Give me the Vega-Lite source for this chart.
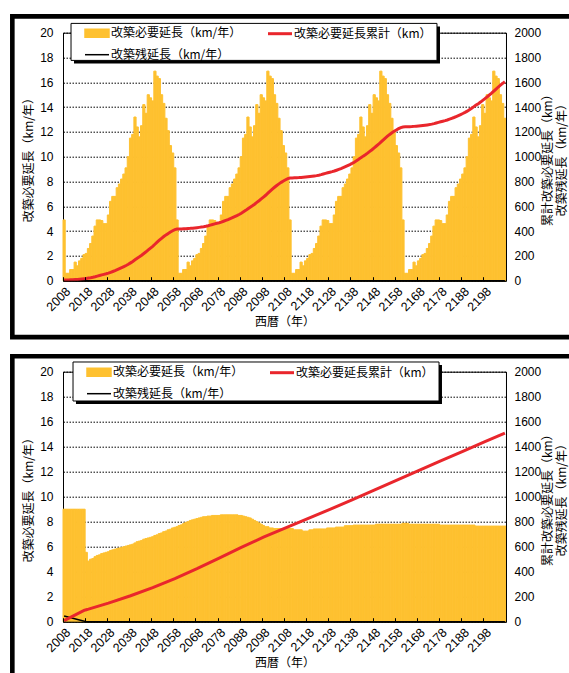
{
  "$schema": "https://vega.github.io/schema/vega-lite/v6.json",
  "padding": {"left": 9, "top": 12.7, "right": 0, "bottom": 0},
  "background": "white",
  "config": {
    "view": {"stroke": null},
    "axis": {"labelColor": "black", "titleColor": "black"},
    "line": {"invalid": "filter"}
  },
  "datasets": {
    "top": [
      {"year":2008,"a":4.9,"ac":4.9,"ar":0},{"year":2009,"a":0.6,"ac":5.5},{"year":2010,"a":0.6,"ac":6.1},{"year":2011,"a":0.9,"ac":7.0},{"year":2012,"a":0.9,"ac":7.9},{"year":2013,"a":1.5,"ac":9.4},{"year":2014,"a":1.2,"ac":10.6},{"year":2015,"a":1.6,"ac":12.2},{"year":2016,"a":1.8,"ac":14.0},{"year":2017,"a":2.1,"ac":16.1},
      {"year":2018,"a":2.2,"ac":18.3},{"year":2019,"a":2.6,"ac":20.9},{"year":2020,"a":3.0,"ac":23.9},{"year":2021,"a":3.6,"ac":27.5},{"year":2022,"a":4.4,"ac":31.9},{"year":2023,"a":4.9,"ac":36.8},{"year":2024,"a":4.9,"ac":41.7},{"year":2025,"a":4.85,"ac":46.6},{"year":2026,"a":4.6,"ac":51.2},{"year":2027,"a":4.6,"ac":55.8},
      {"year":2028,"a":5.3,"ac":61.1},{"year":2029,"a":6.4,"ac":67.5},{"year":2030,"a":6.8,"ac":74.3},{"year":2031,"a":6.8,"ac":81.1},{"year":2032,"a":7.5,"ac":88.6},{"year":2033,"a":7.8,"ac":96.4},{"year":2034,"a":8.2,"ac":104.6},{"year":2035,"a":8.6,"ac":113.2},{"year":2036,"a":9.1,"ac":122.3},{"year":2037,"a":10.0,"ac":132.3},
      {"year":2038,"a":11.5,"ac":143.8},{"year":2039,"a":11.8,"ac":155.6},{"year":2040,"a":13.2,"ac":168.8},{"year":2041,"a":12.4,"ac":181.2},{"year":2042,"a":11.6,"ac":192.8},{"year":2043,"a":12.5,"ac":205.3},{"year":2044,"a":14.2,"ac":219.5},{"year":2045,"a":13.5,"ac":233.0},{"year":2046,"a":15.0,"ac":248.0},{"year":2047,"a":14.75,"ac":262.7},
      {"year":2048,"a":14.5,"ac":277.2},{"year":2049,"a":16.9,"ac":294.1},{"year":2050,"a":16.5,"ac":310.6},{"year":2051,"a":16.3,"ac":326.9},{"year":2052,"a":15.0,"ac":341.9},{"year":2053,"a":14.3,"ac":356.2},{"year":2054,"a":13.1,"ac":369.3},{"year":2055,"a":12.1,"ac":381.4},{"year":2056,"a":10.9,"ac":392.3},{"year":2057,"a":10.3,"ac":402.6},
      {"year":2058,"a":9.1,"ac":411.7},{"year":2059,"a":4.9,"ac":416.6},{"year":2060,"a":0.6,"ac":417.2},{"year":2061,"a":0.6,"ac":417.8},{"year":2062,"a":0.9,"ac":418.7},{"year":2063,"a":0.9,"ac":419.6},{"year":2064,"a":1.5,"ac":421.1},{"year":2065,"a":1.2,"ac":422.3},{"year":2066,"a":1.6,"ac":423.9},{"year":2067,"a":1.8,"ac":425.7},
      {"year":2068,"a":2.1,"ac":427.8},{"year":2069,"a":2.2,"ac":430.0},{"year":2070,"a":2.6,"ac":432.6},{"year":2071,"a":3.0,"ac":435.6},{"year":2072,"a":3.6,"ac":439.2},{"year":2073,"a":4.4,"ac":443.6},{"year":2074,"a":4.9,"ac":448.5},{"year":2075,"a":4.9,"ac":453.4},{"year":2076,"a":4.85,"ac":458.3},{"year":2077,"a":4.6,"ac":462.9},
      {"year":2078,"a":4.6,"ac":467.5},{"year":2079,"a":5.3,"ac":472.8},{"year":2080,"a":6.4,"ac":479.2},{"year":2081,"a":6.8,"ac":486.0},{"year":2082,"a":6.8,"ac":492.8},{"year":2083,"a":7.5,"ac":500.3},{"year":2084,"a":7.8,"ac":508.1},{"year":2085,"a":8.2,"ac":516.3},{"year":2086,"a":8.6,"ac":524.9},{"year":2087,"a":9.1,"ac":534.0},
      {"year":2088,"a":10.0,"ac":544.0},{"year":2089,"a":11.5,"ac":555.5},{"year":2090,"a":11.8,"ac":567.3},{"year":2091,"a":13.2,"ac":580.5},{"year":2092,"a":12.4,"ac":592.9},{"year":2093,"a":11.6,"ac":604.5},{"year":2094,"a":12.5,"ac":617.0},{"year":2095,"a":14.2,"ac":631.2},{"year":2096,"a":13.5,"ac":644.7},{"year":2097,"a":15.0,"ac":659.7},
      {"year":2098,"a":14.75,"ac":674.4},{"year":2099,"a":14.5,"ac":688.9},{"year":2100,"a":16.9,"ac":705.8},{"year":2101,"a":16.5,"ac":722.3},{"year":2102,"a":16.3,"ac":738.6},{"year":2103,"a":15.0,"ac":753.6},{"year":2104,"a":14.3,"ac":767.9},{"year":2105,"a":13.1,"ac":781.0},{"year":2106,"a":12.1,"ac":793.1},{"year":2107,"a":10.9,"ac":804.0},
      {"year":2108,"a":10.3,"ac":814.3},{"year":2109,"a":9.1,"ac":823.4},{"year":2110,"a":4.9,"ac":828.3},{"year":2111,"a":0.6,"ac":828.9},{"year":2112,"a":0.6,"ac":829.5},{"year":2113,"a":0.9,"ac":830.4},{"year":2114,"a":0.9,"ac":831.3},{"year":2115,"a":1.5,"ac":832.8},{"year":2116,"a":1.2,"ac":834.0},{"year":2117,"a":1.6,"ac":835.6},
      {"year":2118,"a":1.8,"ac":837.4},{"year":2119,"a":2.1,"ac":839.5},{"year":2120,"a":2.2,"ac":841.7},{"year":2121,"a":2.6,"ac":844.3},{"year":2122,"a":3.0,"ac":847.3},{"year":2123,"a":3.6,"ac":850.9},{"year":2124,"a":4.4,"ac":855.3},{"year":2125,"a":4.9,"ac":860.2},{"year":2126,"a":4.9,"ac":865.1},{"year":2127,"a":4.85,"ac":870.0},
      {"year":2128,"a":4.6,"ac":874.6},{"year":2129,"a":4.6,"ac":879.2},{"year":2130,"a":5.3,"ac":884.5},{"year":2131,"a":6.4,"ac":890.9},{"year":2132,"a":6.8,"ac":897.7},{"year":2133,"a":6.8,"ac":904.5},{"year":2134,"a":7.5,"ac":912.0},{"year":2135,"a":7.8,"ac":919.8},{"year":2136,"a":8.2,"ac":928.0},{"year":2137,"a":8.6,"ac":936.6},
      {"year":2138,"a":9.1,"ac":945.7},{"year":2139,"a":10.0,"ac":955.7},{"year":2140,"a":11.5,"ac":967.2},{"year":2141,"a":11.8,"ac":979.0},{"year":2142,"a":13.2,"ac":992.2},{"year":2143,"a":12.4,"ac":1004.6},{"year":2144,"a":11.6,"ac":1016.2},{"year":2145,"a":12.5,"ac":1028.7},{"year":2146,"a":14.2,"ac":1042.9},{"year":2147,"a":13.5,"ac":1056.4},
      {"year":2148,"a":15.0,"ac":1071.4},{"year":2149,"a":14.75,"ac":1086.1},{"year":2150,"a":14.5,"ac":1100.6},{"year":2151,"a":16.9,"ac":1117.5},{"year":2152,"a":16.5,"ac":1134.0},{"year":2153,"a":16.3,"ac":1150.3},{"year":2154,"a":15.0,"ac":1165.3},{"year":2155,"a":14.3,"ac":1179.6},{"year":2156,"a":13.1,"ac":1192.7},{"year":2157,"a":12.1,"ac":1204.8},
      {"year":2158,"a":10.9,"ac":1215.7},{"year":2159,"a":10.3,"ac":1226.0},{"year":2160,"a":9.1,"ac":1235.1},{"year":2161,"a":4.9,"ac":1240.0},{"year":2162,"a":0.6,"ac":1240.6},{"year":2163,"a":0.6,"ac":1241.2},{"year":2164,"a":0.9,"ac":1242.1},{"year":2165,"a":0.9,"ac":1243.0},{"year":2166,"a":1.5,"ac":1244.5},{"year":2167,"a":1.2,"ac":1245.7},
      {"year":2168,"a":1.6,"ac":1247.3},{"year":2169,"a":1.8,"ac":1249.1},{"year":2170,"a":2.1,"ac":1251.2},{"year":2171,"a":2.2,"ac":1253.4},{"year":2172,"a":2.6,"ac":1256.0},{"year":2173,"a":3.0,"ac":1259.0},{"year":2174,"a":3.6,"ac":1262.6},{"year":2175,"a":4.4,"ac":1267.0},{"year":2176,"a":4.9,"ac":1271.9},{"year":2177,"a":4.9,"ac":1276.8},
      {"year":2178,"a":4.85,"ac":1281.7},{"year":2179,"a":4.6,"ac":1286.3},{"year":2180,"a":4.6,"ac":1290.9},{"year":2181,"a":5.3,"ac":1296.2},{"year":2182,"a":6.4,"ac":1302.6},{"year":2183,"a":6.8,"ac":1309.4},{"year":2184,"a":6.8,"ac":1316.2},{"year":2185,"a":7.5,"ac":1323.7},{"year":2186,"a":7.8,"ac":1331.5},{"year":2187,"a":8.2,"ac":1339.7},
      {"year":2188,"a":8.6,"ac":1348.3},{"year":2189,"a":9.1,"ac":1357.4},{"year":2190,"a":10.0,"ac":1367.4},{"year":2191,"a":11.5,"ac":1378.9},{"year":2192,"a":11.8,"ac":1390.7},{"year":2193,"a":13.2,"ac":1403.9},{"year":2194,"a":12.4,"ac":1416.3},{"year":2195,"a":11.6,"ac":1427.9},{"year":2196,"a":12.5,"ac":1440.4},{"year":2197,"a":14.2,"ac":1454.6},
      {"year":2198,"a":13.5,"ac":1468.1},{"year":2199,"a":15.0,"ac":1483.1},{"year":2200,"a":14.75,"ac":1497.8},{"year":2201,"a":14.5,"ac":1512.3},{"year":2202,"a":16.9,"ac":1529.2},{"year":2203,"a":16.5,"ac":1545.7},{"year":2204,"a":16.3,"ac":1562.0},{"year":2205,"a":15.0,"ac":1577.0},{"year":2206,"a":14.3,"ac":1591.3},{"year":2207,"a":13.1,"ac":1604.4,"ar":0}
    ],
    "bot": [
      {"year":2008,"b":9.0,"bc":9.0,"br":0.45},{"year":2009,"b":9.0},{"year":2010,"b":9.0},{"year":2011,"b":9.0},{"year":2012,"b":9.0},{"year":2013,"b":9.0},{"year":2014,"b":9.0},{"year":2015,"b":9.0},{"year":2016,"b":9.0},{"year":2017,"b":9.0,"bc":90.0},
      {"year":2018,"b":5.55,"bc":95.6,"br":0},{"year":2019,"b":4.85,"bc":100.4},{"year":2020,"b":5.0},{"year":2021,"b":5.05},{"year":2022,"b":5.2},{"year":2023,"b":5.3},{"year":2024,"b":5.35},{"year":2025,"b":5.45},{"year":2026,"b":5.5},{"year":2027,"b":5.55},
      {"year":2028,"b":5.6,"bc":148.4},{"year":2029,"b":5.7},{"year":2030,"b":5.75},{"year":2031,"b":5.8},{"year":2032,"b":5.85},{"year":2033,"b":5.9},{"year":2034,"b":5.95},{"year":2035,"b":6.0},{"year":2036,"b":6.05},{"year":2037,"b":6.1},
      {"year":2038,"b":6.15,"bc":207.6},{"year":2039,"b":6.2},{"year":2040,"b":6.3},{"year":2041,"b":6.4},{"year":2042,"b":6.45},{"year":2043,"b":6.5},{"year":2044,"b":6.6},{"year":2045,"b":6.65},{"year":2046,"b":6.7},{"year":2047,"b":6.75},
      {"year":2048,"b":6.8,"bc":273.0},{"year":2049,"b":6.9},{"year":2050,"b":6.95},{"year":2051,"b":7.05},{"year":2052,"b":7.1},{"year":2053,"b":7.2},{"year":2054,"b":7.25},{"year":2055,"b":7.35},{"year":2056,"b":7.4},{"year":2057,"b":7.5},
      {"year":2058,"b":7.55,"bc":345.2},{"year":2059,"b":7.6},{"year":2060,"b":7.7},{"year":2061,"b":7.75},{"year":2062,"b":7.85},{"year":2063,"b":7.95},{"year":2064,"b":8.0},{"year":2065,"b":8.1},{"year":2066,"b":8.15},{"year":2067,"b":8.2},
      {"year":2068,"b":8.25,"bc":424.8},{"year":2069,"b":8.3},{"year":2070,"b":8.35},{"year":2071,"b":8.4},{"year":2072,"b":8.4},{"year":2073,"b":8.45},{"year":2074,"b":8.45},{"year":2075,"b":8.5},{"year":2076,"b":8.5},{"year":2077,"b":8.5},
      {"year":2078,"b":8.5,"bc":509.2},{"year":2079,"b":8.55},{"year":2080,"b":8.55},{"year":2081,"b":8.55},{"year":2082,"b":8.55},{"year":2083,"b":8.55},{"year":2084,"b":8.55},{"year":2085,"b":8.55},{"year":2086,"b":8.55},{"year":2087,"b":8.5},
      {"year":2088,"b":8.5,"bc":594.6},{"year":2089,"b":8.45},{"year":2090,"b":8.4},{"year":2091,"b":8.35},{"year":2092,"b":8.3},{"year":2093,"b":8.2},{"year":2094,"b":8.1},{"year":2095,"b":8.0},{"year":2096,"b":7.9},{"year":2097,"b":7.8},
      {"year":2098,"b":7.7,"bc":675.8},{"year":2099,"b":7.6},{"year":2100,"b":7.6},{"year":2101,"b":7.5},{"year":2102,"b":7.5},{"year":2103,"b":7.45},{"year":2104,"b":7.45},{"year":2105,"b":7.45},{"year":2106,"b":7.45},{"year":2107,"b":7.45},
      {"year":2108,"b":7.45,"bc":750.7},{"year":2109,"b":7.45},{"year":2110,"b":7.45},{"year":2111,"b":7.45},{"year":2112,"b":7.35},{"year":2113,"b":7.35},{"year":2114,"b":7.35},{"year":2115,"b":7.35},{"year":2116,"b":7.25},{"year":2117,"b":7.25},
      {"year":2118,"b":7.25,"bc":824.2},{"year":2119,"b":7.35},{"year":2120,"b":7.35},{"year":2121,"b":7.42},{"year":2122,"b":7.42},{"year":2123,"b":7.42},{"year":2124,"b":7.42},{"year":2125,"b":7.42},{"year":2126,"b":7.42},{"year":2127,"b":7.5},
      {"year":2128,"b":7.5,"bc":898.4},{"year":2129,"b":7.5},{"year":2130,"b":7.5},{"year":2131,"b":7.57},{"year":2132,"b":7.57},{"year":2133,"b":7.57},{"year":2134,"b":7.57},{"year":2135,"b":7.68},{"year":2136,"b":7.68},{"year":2137,"b":7.68},
      {"year":2138,"b":7.68,"bc":974.4},{"year":2139,"b":7.73},{"year":2140,"b":7.73},{"year":2141,"b":7.73},{"year":2142,"b":7.73},{"year":2143,"b":7.73},{"year":2144,"b":7.73},{"year":2145,"b":7.73},{"year":2146,"b":7.73},{"year":2147,"b":7.73},
      {"year":2148,"b":7.73,"bc":1051.7},{"year":2149,"b":7.8},{"year":2150,"b":7.8},{"year":2151,"b":7.8},{"year":2152,"b":7.8},{"year":2153,"b":7.8},{"year":2154,"b":7.8},{"year":2155,"b":7.8},{"year":2156,"b":7.8},{"year":2157,"b":7.8},
      {"year":2158,"b":7.8,"bc":1129.7},{"year":2159,"b":7.8},{"year":2160,"b":7.8},{"year":2161,"b":7.87},{"year":2162,"b":7.87},{"year":2163,"b":7.87},{"year":2164,"b":7.8},{"year":2165,"b":7.8},{"year":2166,"b":7.8},{"year":2167,"b":7.8},
      {"year":2168,"b":7.8,"bc":1207.9},{"year":2169,"b":7.8},{"year":2170,"b":7.8},{"year":2171,"b":7.8},{"year":2172,"b":7.8},{"year":2173,"b":7.8},{"year":2174,"b":7.8},{"year":2175,"b":7.8},{"year":2176,"b":7.8},{"year":2177,"b":7.8},
      {"year":2178,"b":7.73,"bc":1285.8},{"year":2179,"b":7.73},{"year":2180,"b":7.73},{"year":2181,"b":7.73},{"year":2182,"b":7.73},{"year":2183,"b":7.73},{"year":2184,"b":7.73},{"year":2185,"b":7.73},{"year":2186,"b":7.73},{"year":2187,"b":7.73},
      {"year":2188,"b":7.73,"bc":1363.1},{"year":2189,"b":7.73},{"year":2190,"b":7.73},{"year":2191,"b":7.73},{"year":2192,"b":7.73},{"year":2193,"b":7.73},{"year":2194,"b":7.65},{"year":2195,"b":7.65},{"year":2196,"b":7.65},{"year":2197,"b":7.65},
      {"year":2198,"b":7.65,"bc":1440.0},{"year":2199,"b":7.65},{"year":2200,"b":7.65},{"year":2201,"b":7.65},{"year":2202,"b":7.65},{"year":2203,"b":7.65},{"year":2204,"b":7.65},{"year":2205,"b":7.65},{"year":2206,"b":7.65},{"year":2207,"b":7.65,"bc":1508.9,"br":0}
    ]
  },
  "spacing": 12,
  "resolve": {"scale": {"color": "independent"}, "legend": {"color": "independent"}},
  "vconcat": [
    {
      "width": 443, "height": 248,
      "view": {"stroke": "black", "strokeWidth": 1},
      "layer": [
        {
          "data": {"name": "top"},
          "layer": [
            {
              "layer": [
                {
                  "mark": {"type": "bar", "stroke": "#FEC130", "strokeWidth": 1},
                  "encoding": {
                    "x": {"field": "year", "type": "ordinal", "scale": {"paddingInner": 0, "paddingOuter": 0},
                      "axis": {"values": [2008,2018,2028,2038,2048,2058,2068,2078,2088,2098,2108,2118,2128,2138,2148,2158,2168,2178,2188,2198],
                        "bandPosition": 0, "labelAngle": -45, "labelFont": "Liberation Sans", "labelFontSize": 12.5, "tickSize": -4, "tickColor": "black", "domainColor": "black",
                        "labelPadding": 8, "labelOverlap": false, "title": "西暦（年）", "titleFont": "Noto Sans CJK JP", "titleFontSize": 12, "titleFontWeight": "normal", "titlePadding": 3, "zindex": 1}},
                    "y": {"field": "a", "type": "quantitative", "scale": {"domain": [0, 20], "nice": false},
                      "axis": {"values": [0,2,4,6,8,10,12,14,16,18,20], "labelOverlap": false, "grid": true, "gridDash": [1.5, 1.5], "gridColor": "#000000", "ticks": false, "domainColor": "black",
                        "labelPadding": 10, "labelFont": "Liberation Sans", "labelFontSize": 12,
                        "title": "改築必要延長（km/年）", "titleFont": "Noto Sans CJK JP", "titleFontSize": 12, "titleFontWeight": "normal", "titlePadding": 4}},
                    "color": {"datum": "改築必要延長（km/年）",
                      "scale": {"domain": ["改築必要延長（km/年）", "改築必要延長累計（km）", "改築残延長（km/年）"], "range": ["#FEC130", "#E9262C", "#000000"]},
                      "legend": {"orient": "none", "legendX": 8, "legendY": -10, "columns": 2, "direction": "horizontal", "title": null, "zindex": 3,
                        "padding": 4, "labelFont": "Noto Sans CJK JP", "labelFontSize": 12, "labelColor": "black", "symbolSize": 144, "columnPadding": 16, "rowPadding": 8, "symbolOffset": 16, "labelOffset": 8,
                        "encode": {
                          "symbols": {"update": {
                          "shape": {"signal": "datum.value === '改築必要延長（km/年）' ? 'M-2,-0.67H2V0.67H-2Z' : 'M-2,0H2'"},
                          "fill": {"signal": "datum.value === '改築必要延長（km/年）' ? '#FEC130' : 'transparent'"},
                          "stroke": {"signal": "datum.value === '改築必要延長累計（km）' ? '#E9262C' : (datum.value === '改築残延長（km/年）' ? '#000000' : 'transparent')"},
                          "strokeWidth": {"signal": "datum.value === '改築必要延長累計（km）' ? 3 : 1.5"},
                          "opacity": {"value": 1}}}}}}
                  }
                },
                {
                  "mark": {"type": "line", "strokeWidth": 1.5},
                  "encoding": {
                    "x": {"field": "year", "type": "ordinal"},
                    "y": {"field": "ar", "type": "quantitative",
                      "axis": {"values": [0,2,4,6,8,10,12,14,16,18,20], "labelOverlap": false, "grid": true, "gridDash": [1.5, 1.5], "gridColor": "#000000", "ticks": false, "domainColor": "black",
                        "labelPadding": 10, "labelFont": "Liberation Sans", "labelFontSize": 12,
                        "title": "改築必要延長（km/年）", "titleFont": "Noto Sans CJK JP", "titleFontSize": 12, "titleFontWeight": "normal", "titlePadding": 4}},
                    "color": {"datum": "改築残延長（km/年）", "scale": {"domain": ["改築必要延長（km/年）", "改築必要延長累計（km）", "改築残延長（km/年）"], "range": ["#FEC130", "#E9262C", "#000000"]},
                      "legend": {"orient": "none", "legendX": 8, "legendY": -10, "columns": 2, "direction": "horizontal", "title": null, "zindex": 3,
                        "padding": 4, "labelFont": "Noto Sans CJK JP", "labelFontSize": 12, "labelColor": "black", "symbolSize": 144, "columnPadding": 16, "rowPadding": 8, "symbolOffset": 16, "labelOffset": 8,
                        "encode": {
                          "symbols": {"update": {
                          "shape": {"signal": "datum.value === '改築必要延長（km/年）' ? 'M-2,-0.67H2V0.67H-2Z' : 'M-2,0H2'"},
                          "fill": {"signal": "datum.value === '改築必要延長（km/年）' ? '#FEC130' : 'transparent'"},
                          "stroke": {"signal": "datum.value === '改築必要延長累計（km）' ? '#E9262C' : (datum.value === '改築残延長（km/年）' ? '#000000' : 'transparent')"},
                          "strokeWidth": {"signal": "datum.value === '改築必要延長累計（km）' ? 3 : 1.5"},
                          "opacity": {"value": 1}}}}}}
                  }
                }
              ]
            },
            {
              "mark": {"type": "line", "strokeWidth": 3},
              "encoding": {
                "x": {"field": "year", "type": "ordinal"},
                "y": {"field": "ac", "type": "quantitative", "scale": {"domain": [0, 2000], "nice": false},
                  "axis": {"orient": "right", "values": [0,200,400,600,800,1000,1200,1400,1600,1800,2000], "format": "d", "labelOverlap": false, "grid": false, "ticks": false, "domainColor": "black",
                    "labelPadding": 8, "labelFont": "Liberation Sans", "labelFontSize": 12,
                    "title": ["累計改築必要延長（km）", "改築残延長（km/年）"], "titleAngle": 270, "titleFont": "Noto Sans CJK JP", "titleFontSize": 12, "titleFontWeight": "normal", "titlePadding": 0, "titleLineHeight": 14, "zindex": 1}},
                "color": {"datum": "改築必要延長累計（km）", "scale": {"domain": ["改築必要延長（km/年）", "改築必要延長累計（km）", "改築残延長（km/年）"], "range": ["#FEC130", "#E9262C", "#000000"]},
                  "legend": {"orient": "none", "legendX": 8, "legendY": -10, "columns": 2, "direction": "horizontal", "title": null, "zindex": 3,
                    "padding": 4, "labelFont": "Noto Sans CJK JP", "labelFontSize": 12, "labelColor": "black", "symbolSize": 144, "columnPadding": 16, "rowPadding": 8, "symbolOffset": 16, "labelOffset": 8,
                    "encode": {
                      "symbols": {"update": {
                      "shape": {"signal": "datum.value === '改築必要延長（km/年）' ? 'M-2,-0.67H2V0.67H-2Z' : 'M-2,0H2'"},
                      "fill": {"signal": "datum.value === '改築必要延長（km/年）' ? '#FEC130' : 'transparent'"},
                      "stroke": {"signal": "datum.value === '改築必要延長累計（km）' ? '#E9262C' : (datum.value === '改築残延長（km/年）' ? '#000000' : 'transparent')"},
                      "strokeWidth": {"signal": "datum.value === '改築必要延長累計（km）' ? 3 : 1.5"},
                      "opacity": {"value": 1}}}}}}
              }
            }
          ],
          "resolve": {"scale": {"y": "independent"}}
        },
        {
          "data": {"values": [{}]},
          "mark": {"type": "rect", "fill": "black", "stroke": "black", "strokeWidth": 0},
          "encoding": {
            "x": {"datum": 0.0248, "type": "quantitative", "scale": {"domain": [0, 1], "nice": false, "zero": false}, "axis": null},
            "x2": {"datum": 0.851},
            "y": {"datum": 1.0254, "type": "quantitative", "scale": {"domain": [0, 1], "nice": false, "zero": false}, "axis": null},
            "y2": {"datum": 0.8762}
          }
        },
        {
          "data": {"values": [{}]},
          "mark": {"type": "rect", "fill": "white", "stroke": "black", "strokeWidth": 1},
          "encoding": {
            "x": {"datum": 0.0181, "type": "quantitative", "scale": {"domain": [0, 1], "nice": false, "zero": false}, "axis": null},
            "x2": {"datum": 0.8442},
            "y": {"datum": 1.0375, "type": "quantitative", "scale": {"domain": [0, 1], "nice": false, "zero": false}, "axis": null},
            "y2": {"datum": 0.8883}
          }
        },
        {
          "data": {"values": [{}]},
          "mark": {"type": "rect", "filled": false, "stroke": "black", "strokeWidth": 4.6},
          "encoding": {
            "x": {"datum": -0.1144, "type": "quantitative", "scale": {"domain": [0, 1], "nice": false, "zero": false}, "axis": null},
            "x2": {"datum": 1.17},
            "y": {"datum": 1.0657, "type": "quantitative", "scale": {"domain": [0, 1], "nice": false, "zero": false}, "axis": null},
            "y2": {"datum": -0.2274}
          }
        }
      ],
      "resolve": {"scale": {"x": "independent", "y": "independent"}}
    },
    {
      "width": 443, "height": 250,
      "view": {"stroke": "black", "strokeWidth": 1},
      "layer": [
        {
          "data": {"name": "bot"},
          "layer": [
            {
              "layer": [
                {
                  "mark": {"type": "bar", "stroke": "#FEC130", "strokeWidth": 1},
                  "encoding": {
                    "x": {"field": "year", "type": "ordinal", "scale": {"paddingInner": 0, "paddingOuter": 0},
                      "axis": {"values": [2008,2018,2028,2038,2048,2058,2068,2078,2088,2098,2108,2118,2128,2138,2148,2158,2168,2178,2188,2198],
                        "bandPosition": 0, "labelAngle": -45, "labelFont": "Liberation Sans", "labelFontSize": 12.5, "tickSize": -4, "tickColor": "black", "domainColor": "black",
                        "labelPadding": 8, "labelOverlap": false, "title": "西暦（年）", "titleFont": "Noto Sans CJK JP", "titleFontSize": 12, "titleFontWeight": "normal", "titlePadding": 3, "zindex": 1}},
                    "y": {"field": "b", "type": "quantitative", "scale": {"domain": [0, 20], "nice": false},
                      "axis": {"values": [0,2,4,6,8,10,12,14,16,18,20], "labelOverlap": false, "grid": true, "gridDash": [1.5, 1.5], "gridColor": "#000000", "ticks": false, "domainColor": "black",
                        "labelPadding": 10, "labelFont": "Liberation Sans", "labelFontSize": 12,
                        "title": "改築必要延長（km/年）", "titleFont": "Noto Sans CJK JP", "titleFontSize": 12, "titleFontWeight": "normal", "titlePadding": 4}},
                    "color": {"datum": "改築必要延長（km/年）",
                      "scale": {"domain": ["改築必要延長（km/年）", "改築必要延長累計（km）", "改築残延長（km/年）"], "range": ["#FEC130", "#E9262C", "#000000"]},
                      "legend": {"orient": "none", "legendX": 10, "legendY": -10, "columns": 2, "direction": "horizontal", "title": null, "zindex": 3,
                        "padding": 4, "labelFont": "Noto Sans CJK JP", "labelFontSize": 12, "labelColor": "black", "symbolSize": 144, "columnPadding": 16, "rowPadding": 8, "symbolOffset": 16, "labelOffset": 8,
                        "encode": {
                          "symbols": {"update": {
                          "shape": {"signal": "datum.value === '改築必要延長（km/年）' ? 'M-2,-0.67H2V0.67H-2Z' : 'M-2,0H2'"},
                          "fill": {"signal": "datum.value === '改築必要延長（km/年）' ? '#FEC130' : 'transparent'"},
                          "stroke": {"signal": "datum.value === '改築必要延長累計（km）' ? '#E9262C' : (datum.value === '改築残延長（km/年）' ? '#000000' : 'transparent')"},
                          "strokeWidth": {"signal": "datum.value === '改築必要延長累計（km）' ? 3 : 1.5"},
                          "opacity": {"value": 1}}}}}}
                  }
                },
                {
                  "mark": {"type": "line", "strokeWidth": 1.5},
                  "encoding": {
                    "x": {"field": "year", "type": "ordinal"},
                    "y": {"field": "br", "type": "quantitative",
                      "axis": {"values": [0,2,4,6,8,10,12,14,16,18,20], "labelOverlap": false, "grid": true, "gridDash": [1.5, 1.5], "gridColor": "#000000", "ticks": false, "domainColor": "black",
                        "labelPadding": 10, "labelFont": "Liberation Sans", "labelFontSize": 12,
                        "title": "改築必要延長（km/年）", "titleFont": "Noto Sans CJK JP", "titleFontSize": 12, "titleFontWeight": "normal", "titlePadding": 4}},
                    "color": {"datum": "改築残延長（km/年）", "scale": {"domain": ["改築必要延長（km/年）", "改築必要延長累計（km）", "改築残延長（km/年）"], "range": ["#FEC130", "#E9262C", "#000000"]},
                      "legend": {"orient": "none", "legendX": 10, "legendY": -10, "columns": 2, "direction": "horizontal", "title": null, "zindex": 3,
                        "padding": 4, "labelFont": "Noto Sans CJK JP", "labelFontSize": 12, "labelColor": "black", "symbolSize": 144, "columnPadding": 16, "rowPadding": 8, "symbolOffset": 16, "labelOffset": 8,
                        "encode": {
                          "symbols": {"update": {
                          "shape": {"signal": "datum.value === '改築必要延長（km/年）' ? 'M-2,-0.67H2V0.67H-2Z' : 'M-2,0H2'"},
                          "fill": {"signal": "datum.value === '改築必要延長（km/年）' ? '#FEC130' : 'transparent'"},
                          "stroke": {"signal": "datum.value === '改築必要延長累計（km）' ? '#E9262C' : (datum.value === '改築残延長（km/年）' ? '#000000' : 'transparent')"},
                          "strokeWidth": {"signal": "datum.value === '改築必要延長累計（km）' ? 3 : 1.5"},
                          "opacity": {"value": 1}}}}}}
                  }
                }
              ]
            },
            {
              "mark": {"type": "line", "strokeWidth": 3},
              "encoding": {
                "x": {"field": "year", "type": "ordinal"},
                "y": {"field": "bc", "type": "quantitative", "scale": {"domain": [0, 2000], "nice": false},
                  "axis": {"orient": "right", "values": [0,200,400,600,800,1000,1200,1400,1600,1800,2000], "format": "d", "labelOverlap": false, "grid": false, "ticks": false, "domainColor": "black",
                    "labelPadding": 8, "labelFont": "Liberation Sans", "labelFontSize": 12,
                    "title": ["累計改築必要延長（km）", "改築残延長（km/年）"], "titleAngle": 270, "titleFont": "Noto Sans CJK JP", "titleFontSize": 12, "titleFontWeight": "normal", "titlePadding": 0, "titleLineHeight": 14, "zindex": 1}},
                "color": {"datum": "改築必要延長累計（km）", "scale": {"domain": ["改築必要延長（km/年）", "改築必要延長累計（km）", "改築残延長（km/年）"], "range": ["#FEC130", "#E9262C", "#000000"]},
                  "legend": {"orient": "none", "legendX": 10, "legendY": -10, "columns": 2, "direction": "horizontal", "title": null, "zindex": 3,
                    "padding": 4, "labelFont": "Noto Sans CJK JP", "labelFontSize": 12, "labelColor": "black", "symbolSize": 144, "columnPadding": 16, "rowPadding": 8, "symbolOffset": 16, "labelOffset": 8,
                    "encode": {
                      "symbols": {"update": {
                      "shape": {"signal": "datum.value === '改築必要延長（km/年）' ? 'M-2,-0.67H2V0.67H-2Z' : 'M-2,0H2'"},
                      "fill": {"signal": "datum.value === '改築必要延長（km/年）' ? '#FEC130' : 'transparent'"},
                      "stroke": {"signal": "datum.value === '改築必要延長累計（km）' ? '#E9262C' : (datum.value === '改築残延長（km/年）' ? '#000000' : 'transparent')"},
                      "strokeWidth": {"signal": "datum.value === '改築必要延長累計（km）' ? 3 : 1.5"},
                      "opacity": {"value": 1}}}}}}
              }
            }
          ],
          "resolve": {"scale": {"y": "independent"}}
        },
        {
          "data": {"values": [{}]},
          "mark": {"type": "rect", "fill": "black", "stroke": "black", "strokeWidth": 0},
          "encoding": {
            "x": {"datum": 0.0293, "type": "quantitative", "scale": {"domain": [0, 1], "nice": false, "zero": false}, "axis": null},
            "x2": {"datum": 0.8555},
            "y": {"datum": 1.0268, "type": "quantitative", "scale": {"domain": [0, 1], "nice": false, "zero": false}, "axis": null},
            "y2": {"datum": 0.8708}
          }
        },
        {
          "data": {"values": [{}]},
          "mark": {"type": "rect", "fill": "white", "stroke": "black", "strokeWidth": 1},
          "encoding": {
            "x": {"datum": 0.0226, "type": "quantitative", "scale": {"domain": [0, 1], "nice": false, "zero": false}, "axis": null},
            "x2": {"datum": 0.8488},
            "y": {"datum": 1.0388, "type": "quantitative", "scale": {"domain": [0, 1], "nice": false, "zero": false}, "axis": null},
            "y2": {"datum": 0.8828}
          }
        },
        {
          "data": {"values": [{}]},
          "mark": {"type": "rect", "filled": false, "stroke": "black", "strokeWidth": 4.6},
          "encoding": {
            "x": {"datum": -0.1144, "type": "quantitative", "scale": {"domain": [0, 1], "nice": false, "zero": false}, "axis": null},
            "x2": {"datum": 1.17},
            "y": {"datum": 1.0616, "type": "quantitative", "scale": {"domain": [0, 1], "nice": false, "zero": false}, "axis": null},
            "y2": {"datum": -0.289}
          }
        }
      ],
      "resolve": {"scale": {"x": "independent", "y": "independent"}}
    }
  ]
}
